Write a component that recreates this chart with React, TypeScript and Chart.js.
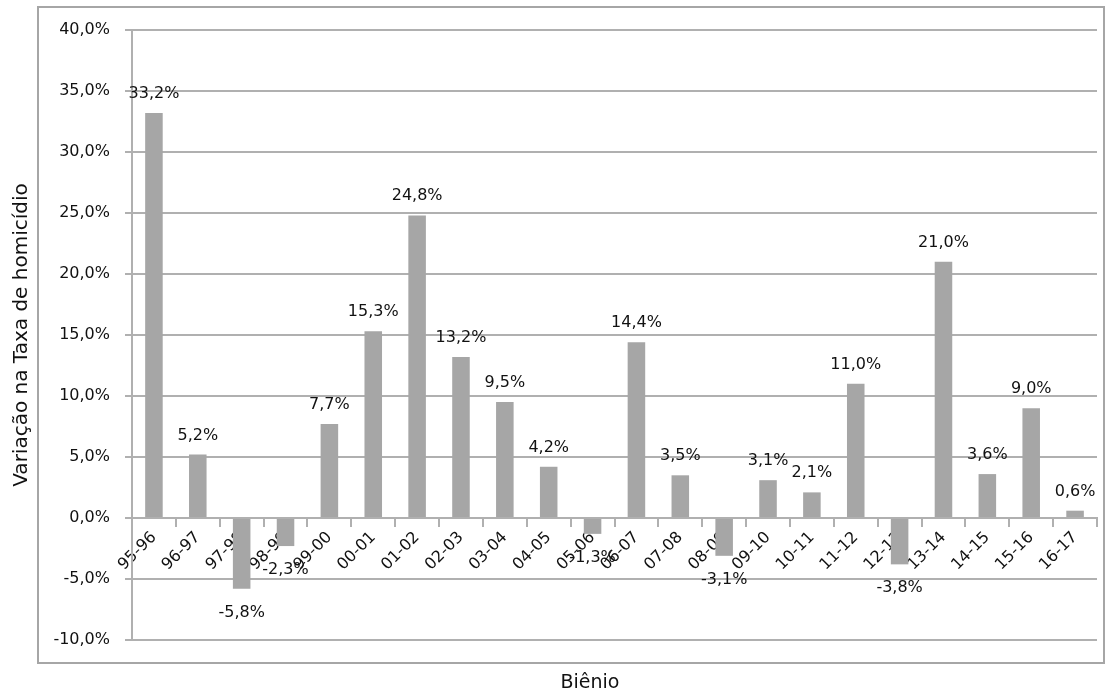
import React, { useEffect, useRef } from "react";
import { Chart, registerables } from "chart.js";

Chart.register(...registerables);

const categories = [
  "95-96", "96-97", "97-98", "98-99", "99-00", "00-01", "01-02", "02-03", "03-04", "04-05", "05-06",
  "06-07", "07-08", "08-09", "09-10", "10-11", "11-12", "12-13", "13-14", "14-15", "15-16", "16-17",
];
const variation = [
  33.2, 5.2, -5.8, -2.3, 7.7, 15.3, 24.8, 13.2, 9.5, 4.2, -1.3,
  14.4, 3.5, -3.1, 3.1, 2.1, 11.0, -3.8, 21.0, 3.6, 9.0, 0.6,
];
const yTitle = "Variação na Taxa de homicídio";
const xTitle = "Biênio";
const yMin = -10;
const yMax = 40;
const yStep = 5;

const FONT = "'DejaVu Sans', sans-serif";
const fmt = (v: number) => v.toFixed(1).replace(".", ",") + "%";

export default function App() {
  const ref = useRef<HTMLCanvasElement | null>(null);

  useEffect(() => {
    document.body.style.margin = "0";
    const canvas = ref.current!;
    const decor = {
      id: "decor",
      beforeDraw(chart: any) {
        const ctx = chart.ctx;
        ctx.save();
        ctx.fillStyle = "#fff";
        ctx.fillRect(0, 0, chart.width, chart.height);
        ctx.strokeStyle = "#a6a6a6";
        ctx.lineWidth = 2;
        ctx.strokeRect(38, 7, 1066, 656);
        ctx.fillStyle = "#111";
        ctx.font = `19px ${FONT}`;
        ctx.textAlign = "center";
        ctx.textBaseline = "middle";
        ctx.fillText(xTitle, 590, 683);
        ctx.restore();
      },
      afterDatasetsDraw(chart: any) {
        const ctx = chart.ctx;
        const meta = chart.getDatasetMeta(0);
        ctx.save();
        ctx.fillStyle = "#111";
        ctx.font = `16px ${FONT}`;
        ctx.textAlign = "center";
        ctx.textBaseline = "alphabetic";
        meta.data.forEach((el: any, i: number) => {
          const v = variation[i];
          const y = v >= 0 ? el.y - 15 : el.y + 28;
          ctx.fillText(fmt(v), el.x, y);
        });
        ctx.restore();
      },
    };

    const chart = new Chart(canvas, {
      type: "bar",
      data: {
        labels: categories,
        datasets: [
          {
            data: variation,
            backgroundColor: "#a6a6a6",
            borderWidth: 0,
            categoryPercentage: 1,
            barPercentage: 0.4,
          },
        ],
      },
      options: {
        responsive: false,
        animation: false,
        layout: { padding: { left: 0, top: 30, right: 14, bottom: 53 } },
        plugins: {
          legend: { display: false },
          tooltip: { enabled: false },
        },
        scales: {
          x: {
            position: { y: 0 } as any,
            offset: true,
            grid: {
              offset: true,
              drawOnChartArea: false,
              drawTicks: true,
              tickLength: 8,
              color: "#b0b0b0",
              lineWidth: 2,
            },
            border: { display: true, color: "#b0b0b0", width: 2 },
            ticks: {
              autoSkip: false,
              maxRotation: 45,
              minRotation: 45,
              padding: 2,
              color: "#111",
              font: { family: FONT, size: 16 },
            },
          },
          y: {
            min: yMin,
            max: yMax,
            afterFit: (s: any) => {
              s.width = 132;
            },
            ticks: {
              stepSize: yStep,
              padding: 15,
              color: "#111",
              font: { family: FONT, size: 16 },
              callback: (v: any) => fmt(Number(v)),
            },
            grid: {
              color: "#b0b0b0",
              lineWidth: 2,
              drawTicks: true,
              tickLength: 7,
            },
            border: { display: true, color: "#b0b0b0", width: 2 },
            title: {
              display: true,
              text: yTitle,
              color: "#111",
              font: { family: FONT, size: 20 },
              padding: { top: 10, bottom: 0 },
            },
          },
        },
      },
      plugins: [decor],
    });
    return () => chart.destroy();
  }, []);

  return <canvas ref={ref} width={1111} height={693} style={{ display: "block" }} />;
}
